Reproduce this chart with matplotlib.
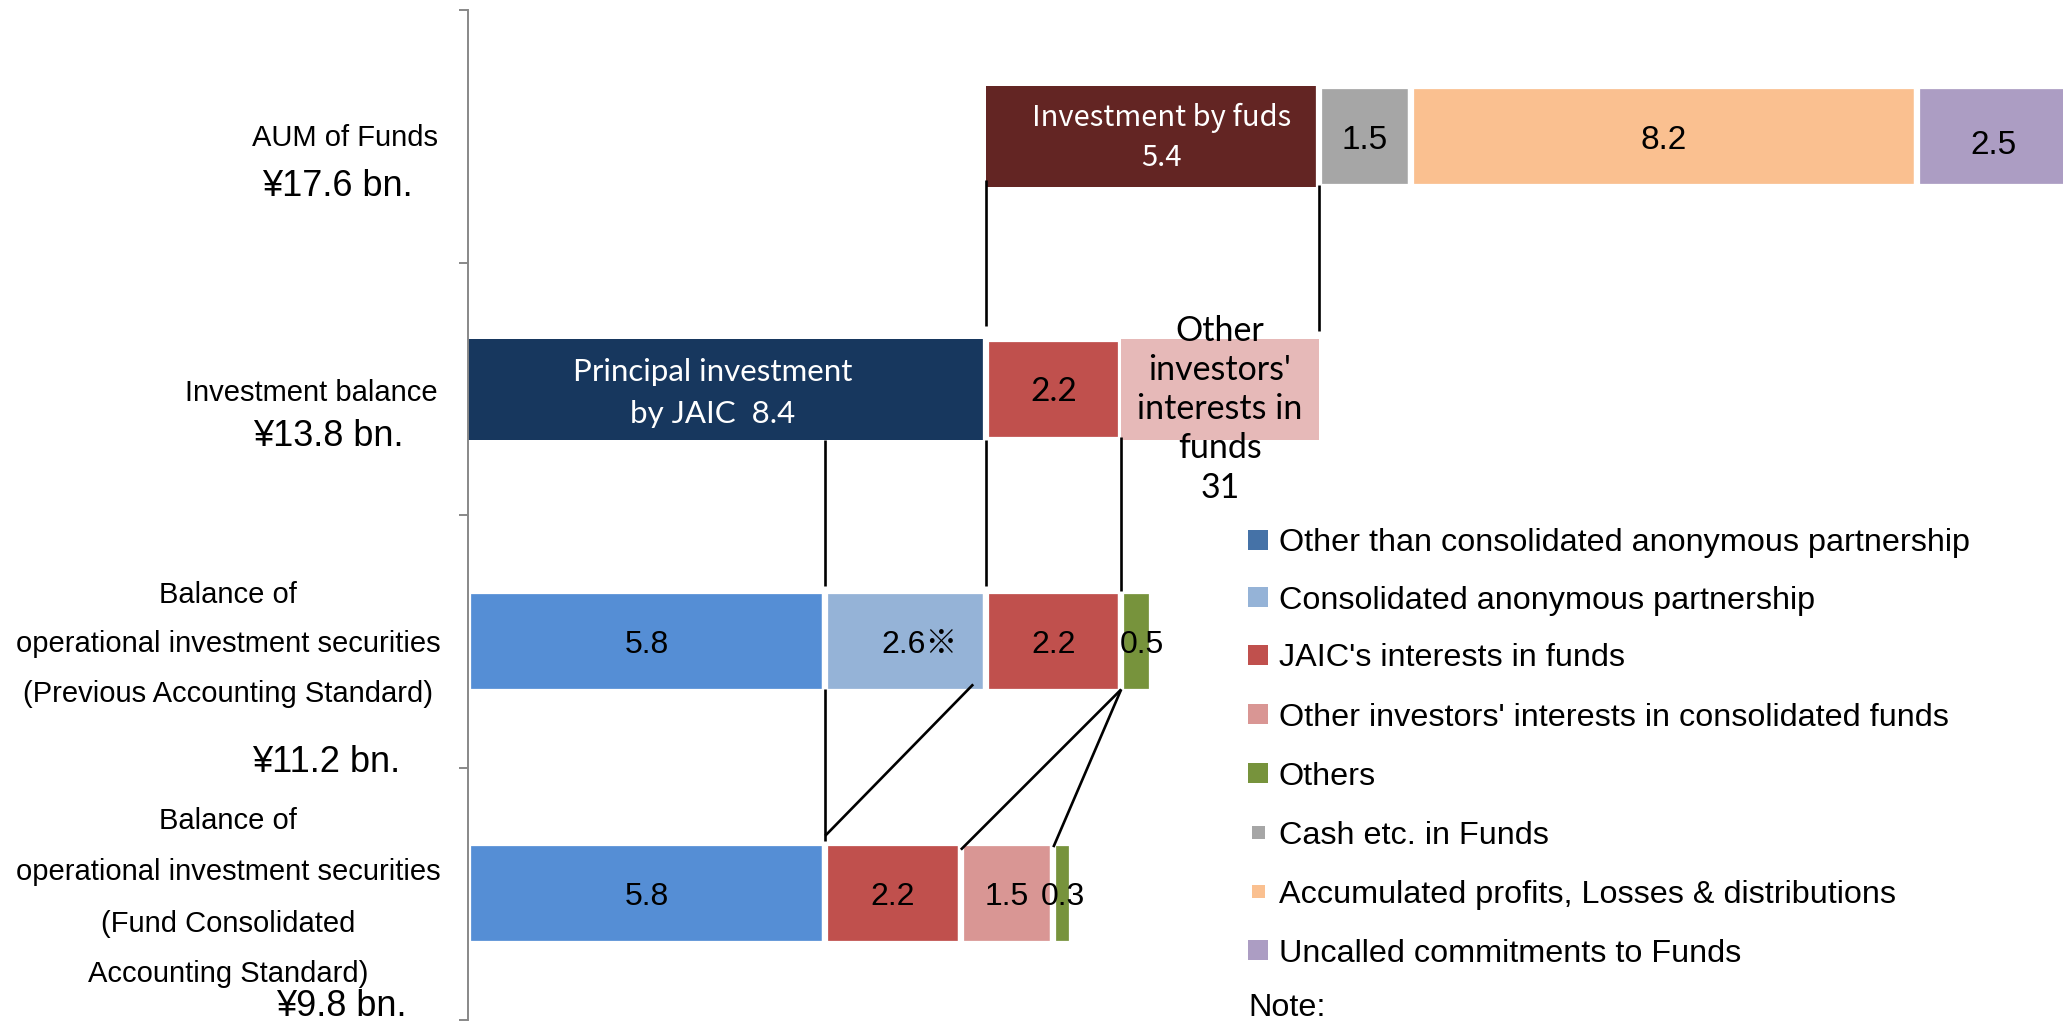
import matplotlib
matplotlib.use("Agg")
import matplotlib.pyplot as plt
from matplotlib.patches import Rectangle
import numpy as np

# ---------------- data (¥ bn.) ----------------
category_lines = [
    ["AUM of Funds"],
    ["Investment balance"],
    ["Balance of", "operational investment securities", "(Previous Accounting Standard)"],
    ["Balance of", "operational investment securities", "(Fund Consolidated", "Accounting Standard)"],
]
category_totals = ["¥17.6 bn.", "¥13.8 bn.", "¥11.2 bn.", "¥9.8 bn."]

# AUM of Funds: investment by funds, cash, accumulated P/L & distributions, uncalled commitments
aum_values = [5.4, 1.5, 8.2, 2.5]
# Investment balance: principal investment by JAIC, JAIC's interests, other investors' interests
balance_values = [8.4, 2.2, 3.2]
# Operational investment securities, previous standard
previous_values = [5.8, 2.6, 2.2, 0.5]
# Operational investment securities, fund consolidated standard
consolidated_values = [5.8, 2.2, 1.5, 0.3]

aum_labels = ["Investment by fuds\n{:.1f}", "{:.1f}", "{:.1f}", "{:.1f}"]
balance_labels = ["Principal investment\nby JAIC  {:.1f}", "{:.1f}",
                  "Other\ninvestors'\ninterests in\nfunds\n31"]
previous_labels = ["{:.1f}", "{:.1f}※", "{:.1f}", "{:.1f}"]
consolidated_labels = ["{:.1f}", "{:.1f}", "{:.1f}", "{:.1f}"]

legend_labels = [
    "Other than consolidated anonymous partnership",
    "Consolidated anonymous partnership",
    "JAIC's interests in funds",
    "Other investors' interests in consolidated funds",
    "Others",
    "Cash etc. in Funds",
    "Accumulated profits, Losses & distributions",
    "Uncalled commitments to Funds",
]

# ---------------- styles ----------------
BLUE, LBLUE, RED, PINK, GREEN = "#558ED5", "#95B3D7", "#C0504D", "#D99694", "#77933C"
GRAY, ORANGE, PURPLE = "#A6A6A6", "#FAC090", "#AC9DC3"
NAVY, MAROON, LPINK = "#17375E", "#632523", "#E6B9B8"

aum_colors = [MAROON, GRAY, ORANGE, PURPLE]
balance_colors = [NAVY, RED, LPINK]
previous_colors = [BLUE, LBLUE, RED, GREEN]
consolidated_colors = [BLUE, RED, PINK, GREEN]

aum_edges = [False, True, True, True]
balance_edges = [False, True, False]
previous_edges = [True, True, True, True]
consolidated_edges = [True, True, True, True]

legend_colors = ["#4572A7", LBLUE, RED, PINK, GREEN, GRAY, ORANGE, PURPLE]
legend_swatch_px = [20, 20, 20, 20, 20, 13, 13, 20]

ARIAL = ["Liberation Sans", "DejaVu Sans"]
ARIAL_JP = ["Liberation Sans", "Noto Sans CJK JP", "DejaVu Sans"]
CALIBRI = ["Lato", "DejaVu Sans"]
GOTHIC = ["Noto Sans CJK JP", "DejaVu Sans"]

W, H = 2063, 1022
fig = plt.figure(figsize=(W / 100, H / 100), dpi=100)
fig.patch.set_facecolor("white")

# axes geometry in pixels
x0_px, px_per_unit = 467.6, 61.66
top_px, bot_px = 10.5, 1020.0
x_max = 26.0
ax = fig.add_axes([x0_px / W, 1 - bot_px / H, x_max * px_per_unit / W, (bot_px - top_px) / H])
ax.set_xlim(0, x_max)
ax.set_ylim(3.5, -0.5)

BAR_H = 0.40
EDGE_LW = 4.5

rows = [
    (0, balance_values[0], aum_values, aum_colors, aum_edges, aum_labels),
    (1, 0.0, balance_values, balance_colors, balance_edges, balance_labels),
    (2, 0.0, previous_values, previous_colors, previous_edges, previous_labels),
    (3, 0.0, consolidated_values, consolidated_colors, consolidated_edges, consolidated_labels),
]

# label text styles per (row, segment)
label_style = {
    (0, 0): dict(color="white", family=GOTHIC, fontsize=21, dx=7, dy=-1, linespacing=1.42),
    (0, 1): dict(fontsize=24),
    (0, 2): dict(fontsize=24),
    (0, 3): dict(fontsize=24, dy=-4),
    (1, 0): dict(color="white", family=CALIBRI, fontsize=22.5, dx=-10, dy=-3, linespacing=1.6),
    (1, 1): dict(family=CALIBRI, fontsize=24),
    (1, 2): dict(family=CALIBRI, fontsize=24.5, dy=-14.5, linespacing=1.28),
    (2, 1): dict(family=ARIAL_JP, dx=10),
    (2, 3): dict(dx=4),
}

edges_by_row = {}
for row, start, values, colors, edges, labels in rows:
    lefts = start + np.concatenate([[0.0], np.cumsum(values)[:-1]])
    edges_by_row[row] = start + np.concatenate([[0.0], np.cumsum(values)])
    for j, (v, l, c, e, lab) in enumerate(zip(values, lefts, colors, edges, labels)):
        ax.barh(row, v, left=l, height=BAR_H, color=c,
                edgecolor="white" if e else "none",
                linewidth=EDGE_LW if e else 0, zorder=2)
        st = dict(color="black", family=ARIAL, fontsize=23, dx=0, dy=0, linespacing=1.2)
        st.update(label_style.get((row, j), {}))
        text = lab.format(v)
        multi = "\n" in text
        ax.annotate(text, xy=(l + v / 2, row), xytext=(st["dx"], st["dy"]),
                    textcoords="offset points", ha="center",
                    va="center" if multi else "center_baseline",
                    color=st["color"], family=st["family"], fontsize=st["fontsize"],
                    linespacing=st["linespacing"], multialignment="center",
                    zorder=5, annotation_clip=False)

# connector lines between the stacked rows
half = BAR_H / 2
e0, e1, e2, e3 = edges_by_row[0], edges_by_row[1], edges_by_row[2], edges_by_row[3]
connectors = [
    ((e0[0], 0 + half - 0.03), (e0[0], 1 - half - 0.05)),
    ((e0[1], 0 + half - 0.01), (e0[1], 1 - half - 0.03)),
    ((e2[1], 1 + half), (e2[1], 2 - half - 0.02)),
    ((e1[1], 1 + half), (e1[1], 2 - half - 0.02)),
    ((e1[2], 1 + half - 0.01), (e1[2], 2 - half)),
    ((e2[1], 2 + half - 0.01), (e3[1], 3 - half - 0.01)),
    ((e2[2] - 0.2, 2 + half - 0.03), (e3[1], 3 - half - 0.03)),
    ((e2[3], 2 + half - 0.01), (e3[2], 3 - half + 0.025)),
    ((e2[3], 2 + half - 0.01), (e3[3], 3 - half + 0.015)),
]
for (xa, ya), (xb, yb) in connectors:
    ax.plot([xa, xb], [ya, yb], color="black", lw=1.9, zorder=4,
            solid_capstyle="butt", clip_on=False)

# axis styling: only the category axis line with boundary ticks
for s in ("top", "right", "bottom"):
    ax.spines[s].set_visible(False)
ax.spines["left"].set_color("#888888")
ax.spines["left"].set_linewidth(1.4)
ax.spines["left"].set_zorder(3)
ax.set_yticks([-0.5, 0.5, 1.5, 2.5, 3.5])
ax.set_yticklabels([])
ax.tick_params(axis="y", direction="out", length=6.5, width=1.4, color="#888888")
ax.xaxis.set_visible(False)
ax.set_facecolor("none")


def fig_text(x_px, y_px, s, **kw):
    fig.text(x_px / W, 1 - y_px / H, s, **kw)


# category labels
cat_line_y = [[135], [390], [592, 641, 691], [818, 869, 921, 971]]
cat_anchor = [(438, "right"), (438, "right"), (228, "center"), (228, "center")]
total_pos = [(337, 183), (328, 433), (326, 758), (341, 1002)]
for lines, ys, (ax_px, ha), total, (tx, ty) in zip(category_lines, cat_line_y, cat_anchor,
                                                   category_totals, total_pos):
    for line, y in zip(lines, ys):
        fig_text(ax_px, y, line, ha=ha, va="center_baseline", fontsize=21, family=ARIAL)
    fig_text(tx, ty, total, ha="center", va="center_baseline", fontsize=26, family=ARIAL)

# legend
leg_y = [540, 597, 655, 714, 773, 832, 891, 950]
sw_center_x, text_x = 1258, 1279
for lab, col, sz, y in zip(legend_labels, legend_colors, legend_swatch_px, leg_y):
    fig.add_artist(Rectangle(((sw_center_x - sz / 2) / W, 1 - (y + sz / 2) / H),
                             sz / W, sz / H, transform=fig.transFigure,
                             facecolor=col, edgecolor="none"))
    fig_text(text_x, y, lab, ha="left", va="center_baseline", fontsize=23.3, family=ARIAL)
fig_text(1248, 1004, "Note:", ha="left", va="center_baseline", fontsize=23.3, family=ARIAL)

fig.savefig("out.png", dpi=100, facecolor="white")
